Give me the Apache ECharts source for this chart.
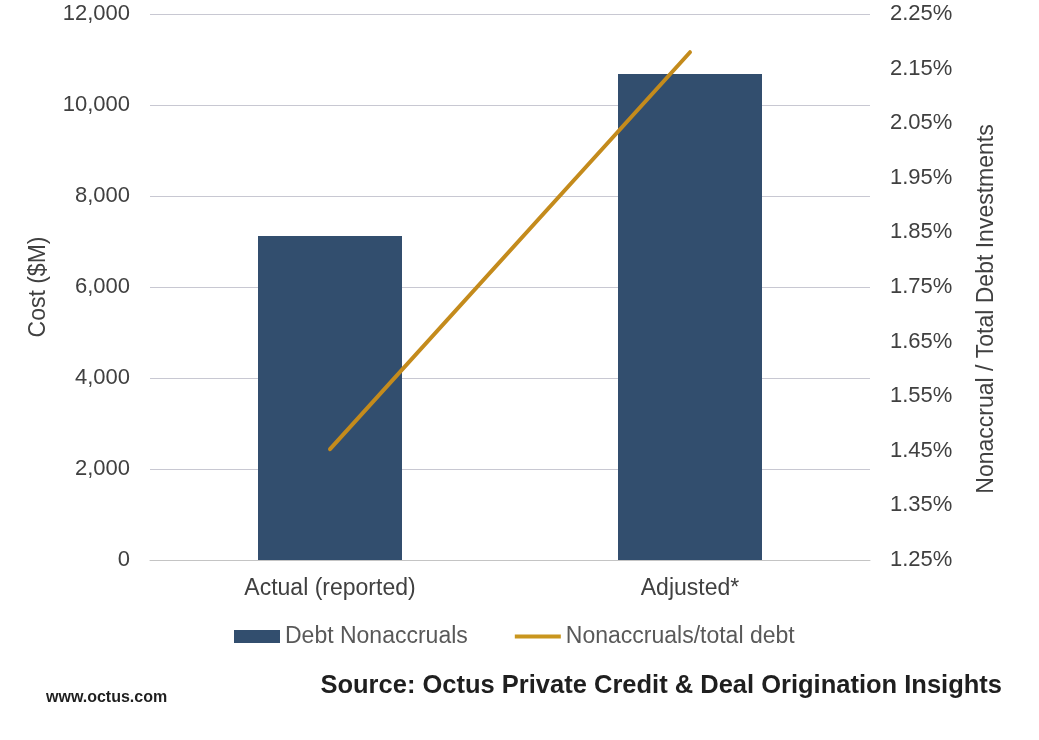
<!DOCTYPE html>
<html>
<head>
<meta charset="utf-8">
<script src="https://cdn.jsdelivr.net/npm/echarts@6/dist/echarts.min.js"></script>
<style>
  html, body { margin: 0; padding: 0; background: #fff; }
  #main { width: 1039px; height: 740px; }
</style>
</head>
<body>
<div id="main"></div>
<script>
// values
var categories = ["Actual (reported)", "Adjusted*"];
var debtNonaccruals = [7120, 10680];          // $M
var nonaccrualRatio = [1.453, 2.18];          // % of total debt
var rightTicks = [1.25, 1.35, 1.45, 1.55, 1.65, 1.75, 1.85, 1.95, 2.05, 2.15, 2.25];

var chart = echarts.init(document.getElementById('main'));
var font = 'Liberation Sans, Arial, sans-serif';

var option = {
    animation: false,
    textStyle: { fontFamily: font },
    grid: { left: 150, right: 169, top: 14, bottom: 180 },
    legend: {
        bottom: 87,
        left: 229,
        itemGap: 47,
        itemWidth: 46,
        itemHeight: 13,
        textStyle: { fontSize: 23, color: '#595959', fontFamily: font },
        data: [
            { name: 'Debt Nonaccruals', icon: 'rect' },
            // flat bar for the line key, padded so it keeps its thickness
            { name: 'Nonaccruals/total debt', icon: 'path://M0,0 L0.01,0 M0,4.5 H46 V8.5 H0 Z M0,13 L0.01,13' }
        ]
    },
    xAxis: {
        type: 'category',
        data: categories,
        axisLine: { lineStyle: { color: '#c4c4c4', width: 1 } },
        axisTick: { show: false },
        axisLabel: { fontSize: 23, color: '#404040', margin: 17 }
    },
    yAxis: [{
        type: 'value',
        min: 0,
        max: 12000,
        interval: 2000,
        name: 'Cost ($M)',
        nameLocation: 'middle',
        nameRotate: 90,
        nameGap: 100,
        nameTextStyle: { fontSize: 23, color: '#404040' },
        axisLine: { show: false },
        axisTick: { show: false },
        axisLabel: {
            fontSize: 22, color: '#404040', margin: 20,
            formatter: function (v) { return v.toLocaleString('en-US'); }
        },
        splitLine: { lineStyle: { color: '#c8c8d2', width: 1 } }
    }, {
        type: 'value',
        min: 1.25,
        max: 2.25,
        position: 'right',
        name: 'Nonaccrual / Total Debt Investments',
        nameLocation: 'middle',
        nameRotate: 90,
        nameGap: 105,
        nameTextStyle: { fontSize: 23, color: '#404040', padding: [0, 44, 0, 0] },
        axisLine: { show: false },
        axisTick: { show: false },
        splitLine: { show: false },
        axisLabel: {
            fontSize: 22, color: '#404040', margin: 20,
            customValues: rightTicks,
            formatter: function (v) { return v.toFixed(2) + '%'; }
        }
    }],
    series: [{
        name: 'Debt Nonaccruals',
        type: 'bar',
        yAxisIndex: 0,
        barWidth: '40%',
        data: debtNonaccruals,
        itemStyle: { color: '#324e6e' }
    }, {
        name: 'Nonaccruals/total debt',
        type: 'line',
        yAxisIndex: 1,
        data: nonaccrualRatio,
        symbol: 'none',
        lineStyle: { color: '#c48b1c', width: 4, cap: 'round' },
        itemStyle: { color: '#c9961e' }
    }],
    graphic: [{
        type: 'text',
        right: 37,
        top: 673,
        style: {
            text: 'Source: Octus Private Credit & Deal Origination Insights',
            font: 'bold 25.5px ' + font,
            fill: '#1f1f1f'
        }
    }, {
        type: 'text',
        left: 46,
        top: 690,
        style: {
            text: 'www.octus.com',
            font: 'bold 16px ' + font,
            fill: '#1f1f1f'
        }
    }]
};
chart.setOption(option);
</script>
</body>
</html>
